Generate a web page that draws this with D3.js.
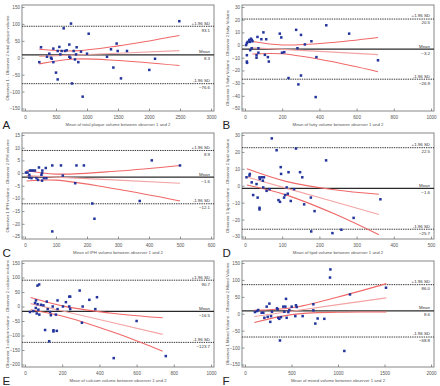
<!DOCTYPE html>
<html>
<head>
<meta charset="utf-8">
<script src="https://cdn.jsdelivr.net/npm/d3@7"></script>
<style>
  body { margin: 0; background: #fff; }
  svg { display: block; font-family: "Liberation Sans", Arial, sans-serif; }
</style>
</head>
<body>
<div id="chart"></div>
<script>
// Bland-Altman data: [mean of observers, difference]
const pointsA = [[231,-13],[258,31],[355,3],[392,12],[419,0],[430,-3],[457,27],[457,-13],[500,-44],[527,-64],
  [527,20],[554,32],[570,10],[591,20],[624,87],[645,20],[672,22],[715,39],[715,3],[731,0],[742,101],[758,-76],
  [785,20],[806,-5],[833,31],[823,10],[860,-13],[903,18],[930,-115],[1000,12],[1027,71],[1323,3],[1387,25],
  [1425,-29],[1478,42],[1495,20],[1548,-61],[1645,20],[2005,-36],[2097,-3],[2489,108]];
const pointsB = [[6,0],[10,1.5],[10,-8],[10,-13],[11,-14],[14,2.5],[23,4],[26,2.5],[28,-4],[32,5],[37,4],
  [40,3],[36,-2.5],[62,-10],[62,-8],[67,6.4],[72,-6],[72,-2.5],[88,4.6],[99,10],[107,-7.7],[114,4.6],[123,-9.5],
  [128,-13],[187,9],[195,6],[199,-6],[211,-5.6],[234,-26],[275,12],[282,-2.5],[287,-31],[301,8],[301,-24],
  [322,0.5],[357,3],[380,-41],[384,-9.5],[437,15.6],[560,9],[715,-12]];
const pointsC = [[3,0.2],[8,0.2],[14,-0.7],[16,1],[21,1],[26,1],[14,-1.8],[21,-2],[32,1],[37,-2],[42,-2.7],
  [45,2.2],[53,-0.7],[55,0],[56,1],[55,-3],[61,-2],[67,2],[69,-2],[88,3],[88,-23],[116,3],[122,-1],[162,-4],
  [166,3],[190,3],[217,-12],[224,-18],[370,-11],[409,5],[500,3]];
const pointsD = [[4,5],[12,6],[13,7],[18,2],[22,-5.5],[31,1],[34,-7],[39,5],[40,4],[39,-13],[39,-14],[45,5],
  [48,3],[49,-1],[51,5],[58,-3],[66,-2],[72,28],[85,21],[90,-8.5],[94,-9.5],[96,11],[97,7],[105,-7],[108,-5.5],
  [112,-1],[115,-4.7],[117,8],[123,-9],[132,-2],[137,22],[148,8],[154,5],[159,-11],[177,-7],[178,-27],[187,-15],
  [218,15],[235,-28],[259,-26],[292,-19],[364,-8]];
const pointsE = [[27,-19],[45,-16],[54,12],[58,-5],[59,21],[63,-24],[67,72],[68,8],[76,76],[72,-11],[77,-28],
  [86,6],[99,4],[108,-81],[117,17],[122,-9],[130,-120],[135,-19],[139,-30],[149,0],[153,-82],[153,-86],[166,-28],
  [171,-84],[175,21],[175,-9],[204,0],[220,15],[238,0],[238,34],[243,34],[243,-9],[294,55],[306,-56],[310,0],
  [346,23],[378,-9],[387,32],[477,-178],[600,-50],[757,-171]];
const pointsF = [[107,5],[129,8],[143,11],[179,3],[197,3],[208,-12],[233,21],[244,-9],[262,30],[272,-24],
  [280,-7],[290,6],[344,16],[351,13],[358,-12],[369,-15],[376,-79],[387,-10],[412,21],[423,6],[434,21],[441,44],
  [448,-12],[466,5],[477,11],[502,21],[541,-7],[548,25],[556,20],[620,-7],[735,28],[735,10],[756,-29],[781,-14],
  [853,-15],[914,107],[918,131],[1068,-110],[1129,57],[1516,77]];

// regression line and its 95% CI, read at a few x values: [x, lower, fit, upper]
const fitA = [[230,-18,4,25],[800,-3.7,8.3,20.3],[1500,-8,13.5,35],[2490,-23,21,66]];
const fitB = [[40,-7,-2.1,2.8],[200,-6.9,-3.4,0.1],[450,-12.6,-5.4,1.8],[715,-21,-7.5,6]];
const fitC = [[5,-3.1,-1,1],[100,-2.8,-1.6,-0.4],[300,-6.4,-2.8,0.8],[500,-11,-4,3]];
const fitD = [[5,0.4,5.2,10],[110,-5.4,-1.4,2.6],[240,-16.6,-9.5,-2.4],[360,-29,-17,-5]];
const fitE = [[30,-11,10,31],[220,-36,-18.4,-0.4],[480,-90,-57,-24],[740,-154,-96,-39]];
const fitF = [[100,-26,-8,10],[500,-2.5,7.5,17.5],[1000,4.6,27,49.4],[1520,5,47,89]];

// limits of agreement: [+1.96 SD, mean, -1.96 SD]
const limitsA = [93.1, 8.3, -76.6];
const limitsB = [20.5, -3.2, -26.9];
const limitsC = [8.9, -1.6, -12.1];
const limitsD = [22.5, -1.6, -25.7];
const limitsE = [90.7, -16.5, -123.7];
const limitsF = [86.0, 8.6, -68.8];

const xTicksA = [0, 500, 1000, 1500, 2000, 2500, 3000];
const xTicksB = [0, 200, 400, 600, 800, 1000];
const xTicksC = [0, 100, 200, 300, 400, 500, 600];
const xTicksD = [0, 100, 200, 300, 400, 500];
const xTicksE = [0, 200, 400, 600, 800, 1000];
const xTicksF = [0, 500, 1000, 1500, 2000];

const yTicksA = [-150, -100, -50, 0, 50, 100, 150];
const yTicksB = [-50, -40, -30, -20, -10, 0, 10, 20, 30];
const yTicksC = [-25, -20, -15, -10, -5, 0, 5, 10, 15];
const yTicksD = [-30, -20, -10, 0, 10, 20, 30];
const yTicksE = [-200, -150, -100, -50, 0, 50, 100, 150];
const yTicksF = [-150, -100, -50, 0, 50, 100, 150];

const panelLetters = ['A', 'B', 'C', 'D', 'E', 'F'];
const xTitles = [
  'Mean of total plaque volume between observer 1 and 2',
  'Mean of fatty volume between observer 1 and 2',
  'Mean of IPH volume between observer 1 and 2',
  'Mean of lipid volume between observer 1 and 2',
  'Mean of calcium volume between observer 1 and 2',
  'Mean of mixed volume between observer 1 and 2'
];
const yTitles = [
  'Observer 1 - Observer 2 total plaque volume',
  'Observer 1 fatty Volume - Observer 2 fatty Volume',
  'Observer 1 IPH volume - Observer 2 IPH volume',
  'Observer 1 lipid volume - Observer 2 lipid volume',
  'Observer 1 calcium volume - Observer 2 calcium volume',
  'Observer 1 Mixed Volume - Observer 2 Mixed Volume'
];
const limitNames = ['+1.96 SD', 'Mean', '-1.96 SD'];

const panels = [
  { points: pointsA, fit: fitA, limits: limitsA, xTicks: xTicksA, yTicks: yTicksA },
  { points: pointsB, fit: fitB, limits: limitsB, xTicks: xTicksB, yTicks: yTicksB },
  { points: pointsC, fit: fitC, limits: limitsC, xTicks: xTicksC, yTicks: yTicksC },
  { points: pointsD, fit: fitD, limits: limitsD, xTicks: xTicksD, yTicks: yTicksD },
  { points: pointsE, fit: fitE, limits: limitsE, xTicks: xTicksE, yTicks: yTicksE },
  { points: pointsF, fit: fitF, limits: limitsF, xTicks: xTicksF, yTicks: yTicksF }
].map((p, i) => ({ ...p, letter: panelLetters[i], xTitle: xTitles[i], yTitle: yTitles[i] }));

const width = 440;
const height = 386;
const cellW = 220;
const cellH = 128;
// plot frame inside each cell
const box = { left: 22, right: 214, top: 5, bottom: 111 };

const colors = {
  frame: '#7a7a7a',
  text: '#555',
  point: '#23359c',
  ci: '#f06868',
  fit: '#f4a4a4',
  mean: '#2a2a2a',
  sd: '#222'
};

const svg = d3
  .select('#chart')
  .append('svg')
  .attr('width', width)
  .attr('height', height);

panels.forEach((p, i) => {
  const ox = (i % 2) * cellW;
  const oy = Math.floor(i / 2) * cellH;
  const g = svg.append('g').attr('transform', `translate(${ox},${oy})`);

  const x = d3
    .scaleLinear()
    .domain(d3.extent(p.xTicks))
    .range([25, 211]);

  const y = d3
    .scaleLinear()
    .domain(d3.extent(p.yTicks))
    .range([108.5, 7]);

  // frame
  g.append('rect')
    .attr('x', box.left)
    .attr('y', box.top)
    .attr('width', box.right - box.left)
    .attr('height', box.bottom - box.top)
    .attr('fill', 'none')
    .attr('stroke', colors.frame)
    .attr('stroke-width', 0.9);

  // Y axis (ticks point inward)
  const yAxis = g
    .append('g')
    .attr('transform', `translate(${box.left},0)`)
    .call(d3.axisRight(y).tickValues(p.yTicks).tickSize(2.5).tickFormat(d3.format('d')));
  yAxis.select('.domain').remove();
  yAxis.selectAll('.tick line').attr('stroke', colors.frame).attr('stroke-width', 0.8);
  yAxis
    .selectAll('.tick text')
    .attr('x', -2)
    .attr('text-anchor', 'end')
    .attr('font-size', 4.6)
    .attr('fill', colors.text);

  // X axis (ticks point inward)
  const xAxis = g
    .append('g')
    .attr('transform', `translate(0,${box.bottom})`)
    .call(d3.axisTop(x).tickValues(p.xTicks).tickSize(2.5).tickFormat(d3.format('d')));
  xAxis.select('.domain').remove();
  xAxis.selectAll('.tick line').attr('stroke', colors.frame).attr('stroke-width', 0.8);
  xAxis
    .selectAll('.tick text')
    .attr('y', 7.5)
    .attr('dy', 0)
    .attr('font-size', 4.6)
    .attr('fill', colors.text);

  // axis titles
  g.append('text')
    .attr('x', (box.left + box.right) / 2)
    .attr('y', 126)
    .attr('text-anchor', 'middle')
    .attr('font-size', 4.3)
    .attr('fill', colors.text)
    .text(p.xTitle);

  g.append('text')
    .attr('transform', `translate(8.5,${(box.top + box.bottom) / 2}) rotate(-90)`)
    .attr('text-anchor', 'middle')
    .attr('font-size', 4.3)
    .attr('fill', colors.text)
    .text(p.yTitle);

  // panel letter
  g.append('text')
    .attr('x', 2.5)
    .attr('y', 128.5)
    .attr('font-size', 11.5)
    .attr('fill', '#222')
    .text(p.letter);

  // limits of agreement
  g.selectAll('.limit')
    .data(p.limits)
    .join('line')
    .attr('class', 'limit')
    .attr('x1', box.left)
    .attr('x2', box.right)
    .attr('y1', (d) => y(d))
    .attr('y2', (d) => y(d))
    .attr('stroke', (d, k) => (k === 1 ? colors.mean : colors.sd))
    .attr('stroke-width', (d, k) => (k === 1 ? 1.3 : 0.9))
    .attr('stroke-dasharray', (d, k) => (k === 1 ? null : '1.4,0.9'));

  // regression line with 95% CI
  const lo = d3.line().x((d) => x(d[0])).y((d) => y(d[1])).curve(d3.curveCatmullRom);
  const mid = d3.line().x((d) => x(d[0])).y((d) => y(d[2]));
  const hi = d3.line().x((d) => x(d[0])).y((d) => y(d[3])).curve(d3.curveCatmullRom);

  g.append('path')
    .attr('d', mid(p.fit))
    .attr('fill', 'none')
    .attr('stroke', colors.fit)
    .attr('stroke-width', 1.1);
  [lo, hi].forEach((gen) => {
    g.append('path')
      .attr('d', gen(p.fit))
      .attr('fill', 'none')
      .attr('stroke', colors.ci)
      .attr('stroke-width', 1.1);
  });

  // points
  g.selectAll('.pt')
    .data(p.points)
    .join('rect')
    .attr('class', 'pt')
    .attr('x', (d) => x(d[0]) - 1.25)
    .attr('y', (d) => y(d[1]) - 1.25)
    .attr('width', 2.5)
    .attr('height', 2.5)
    .attr('fill', colors.point);

  // labels for the limit lines
  const labels = g.append('g').attr('font-size', 4.4).attr('fill', '#333').attr('text-anchor', 'end');
  p.limits.forEach((v, k) => {
    labels.append('text').attr('x', box.right - 4).attr('y', y(v) - 1.6).text(limitNames[k]);
    labels.append('text').attr('x', box.right - 4).attr('y', y(v) + 5.4).text(d3.format('.1f')(v));
  });
});
</script>
</body>
</html>
